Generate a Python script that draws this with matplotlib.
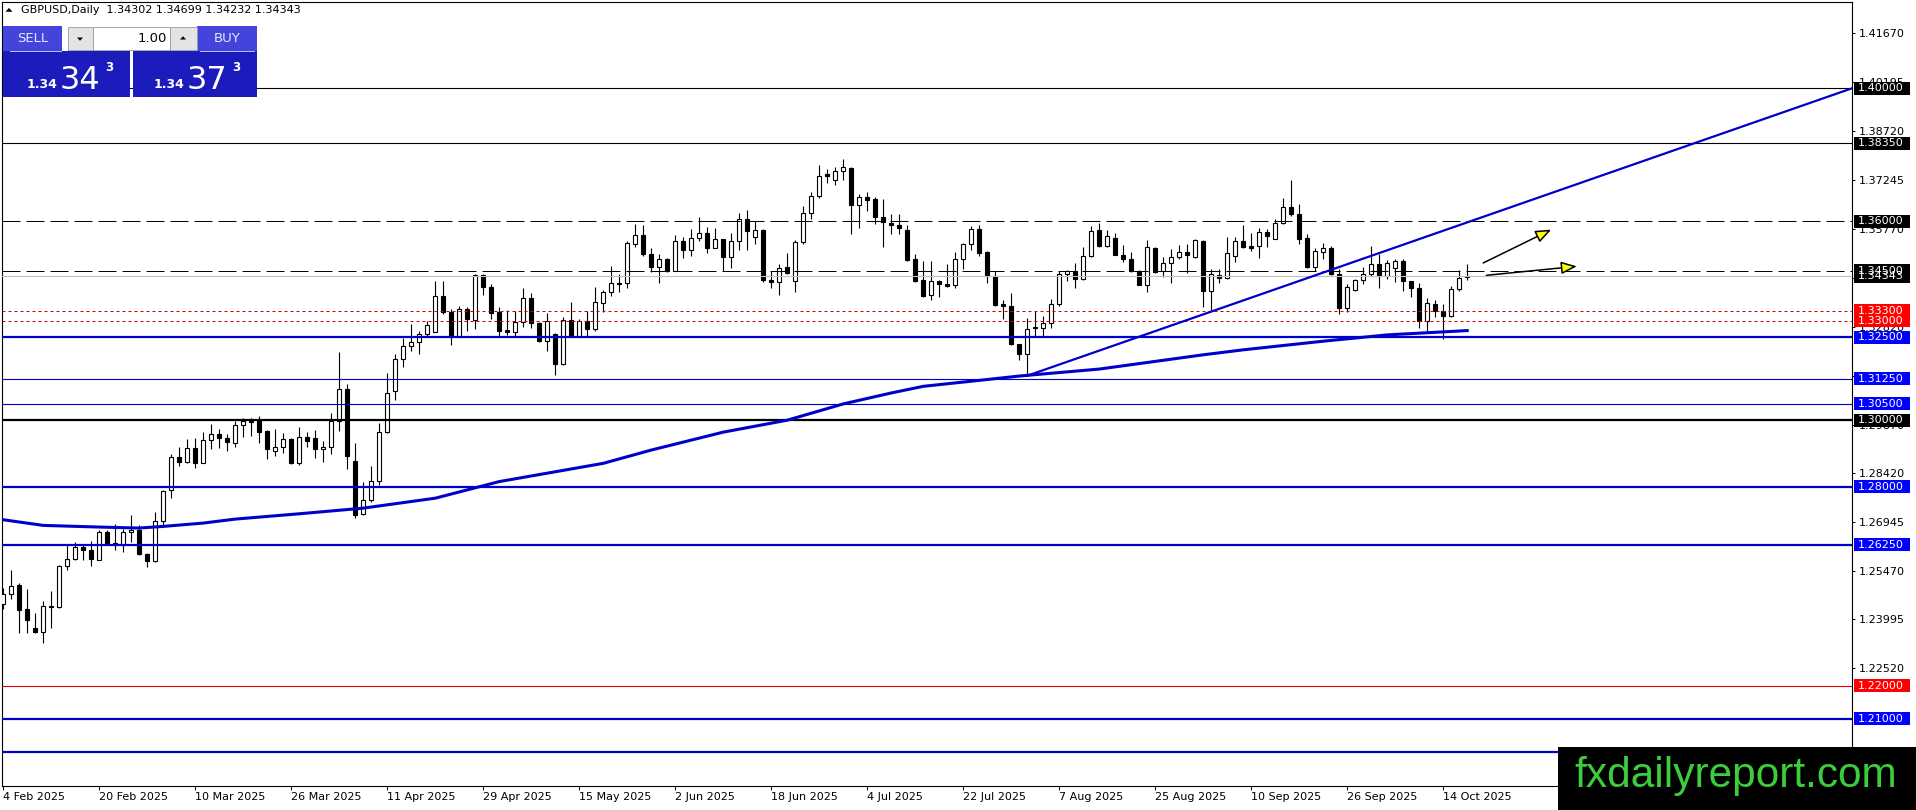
import matplotlib
matplotlib.use('Agg')
import matplotlib.pyplot as plt
import matplotlib.transforms as mtransforms
from matplotlib.patches import Rectangle, Polygon
import numpy as np

# ---- data (daily GBPUSD bars, 4 Feb 2025 .. 17 Oct 2025) ----
opens = [1.2445, 1.2475, 1.2502, 1.2430, 1.2375, 1.2363, 1.2440, 1.2438, 1.2562, 1.2582,
         1.2618, 1.2610, 1.2580, 1.2663, 1.2630, 1.2623, 1.2663, 1.2670, 1.2598, 1.2575,
         1.2695, 1.2790, 1.2890, 1.2875, 1.2915, 1.2872, 1.2940, 1.2958, 1.2945, 1.2930,
         1.2985, 1.2998, 1.3000, 1.2968, 1.2908, 1.2918, 1.2943, 1.2870, 1.2948, 1.2945,
         1.2912, 1.2918, 1.2998, 1.3095, 1.2877, 1.2717, 1.2760, 1.2817, 1.2965, 1.3088,
         1.3185, 1.3223, 1.3237, 1.3260, 1.3266, 1.3375, 1.3327, 1.3252, 1.3335, 1.3302,
         1.3438, 1.3402, 1.3325, 1.3272, 1.3265, 1.3295, 1.3367, 1.3293, 1.3240, 1.3260,
         1.3170, 1.3302, 1.3252, 1.3298, 1.3275, 1.3352, 1.3385, 1.3413, 1.3412, 1.3532,
         1.3558, 1.3500, 1.3463, 1.3485, 1.3450, 1.3541, 1.3512, 1.3549, 1.3563, 1.3520,
         1.3546, 1.3493, 1.3540, 1.3606, 1.3551, 1.3573, 1.3422, 1.3415, 1.3462, 1.3420,
         1.3536, 1.3625, 1.3674, 1.3742, 1.3724, 1.3752, 1.3760, 1.3649, 1.3671, 1.3665,
         1.3613, 1.3595, 1.3589, 1.3574, 1.3486, 1.3423, 1.3377, 1.3418, 1.3411, 1.3406,
         1.3486, 1.3530, 1.3577, 1.3508, 1.3433, 1.3350, 1.3345, 1.3229, 1.3199, 1.3282,
         1.3278, 1.3293, 1.3350, 1.3439, 1.3448, 1.3425, 1.3495, 1.3572, 1.3524, 1.3550,
         1.3499, 1.3485, 1.3449, 1.3408, 1.3520, 1.3449, 1.3475, 1.3493, 1.3507, 1.3493,
         1.3540, 1.3390, 1.3437, 1.3428, 1.3495, 1.3540, 1.3524, 1.3524, 1.3567, 1.3547,
         1.3593, 1.3643, 1.3620, 1.3548, 1.3463, 1.3506, 1.3520, 1.3440, 1.3338, 1.3392,
         1.3422, 1.3440, 1.3470, 1.3433, 1.3460, 1.3480, 1.3420, 1.3398, 1.3300, 1.3350,
         1.3328, 1.3313, 1.3395, 1.34302]
highs = [1.2495, 1.2550, 1.2508, 1.2492, 1.2420, 1.2455, 1.2484, 1.2565, 1.2623, 1.2633,
         1.2623, 1.2637, 1.2670, 1.2668, 1.2688, 1.2673, 1.2715, 1.2683, 1.2600, 1.2723,
         1.2790, 1.2898, 1.2920, 1.2942, 1.2945, 1.2965, 1.2990, 1.2972, 1.2958, 1.2998,
         1.3008, 1.3008, 1.3012, 1.2970, 1.2972, 1.2962, 1.2945, 1.2980, 1.2965, 1.2970,
         1.2938, 1.3023, 1.3205, 1.3110, 1.2932, 1.2813, 1.2862, 1.2993, 1.3143, 1.3198,
         1.3248, 1.3290, 1.3270, 1.3298, 1.3420, 1.3420, 1.3335, 1.3345, 1.3340, 1.3440,
         1.3440, 1.3410, 1.3340, 1.3332, 1.3330, 1.3398, 1.3382, 1.3295, 1.3322, 1.3262,
         1.3312, 1.3355, 1.3305, 1.3328, 1.3402, 1.3393, 1.3465, 1.3440, 1.3539, 1.3591,
         1.3588, 1.3518, 1.3500, 1.3488, 1.3558, 1.3551, 1.3576, 1.3611, 1.3582, 1.3579,
         1.3546, 1.3564, 1.3623, 1.3632, 1.3600, 1.3576, 1.3450, 1.3472, 1.3505, 1.3543,
         1.3646, 1.3689, 1.3770, 1.3757, 1.3764, 1.3787, 1.3763, 1.3680, 1.3689, 1.3672,
         1.3665, 1.3620, 1.3620, 1.3587, 1.3501, 1.3481, 1.3480, 1.3421, 1.3471, 1.3506,
         1.3533, 1.3584, 1.3587, 1.3511, 1.3451, 1.3362, 1.3384, 1.3229, 1.3308, 1.3328,
         1.3315, 1.3365, 1.3449, 1.3453, 1.3473, 1.3523, 1.3584, 1.3594, 1.3574, 1.3565,
         1.3529, 1.3506, 1.3452, 1.3542, 1.3523, 1.3493, 1.3516, 1.3528, 1.3531, 1.3547,
         1.3542, 1.3455, 1.3455, 1.3552, 1.3553, 1.3588, 1.3565, 1.3580, 1.3575, 1.3605,
         1.3670, 1.3725, 1.3650, 1.3560, 1.3518, 1.3535, 1.3525, 1.3455, 1.3410, 1.3425,
         1.3462, 1.3525, 1.3502, 1.3482, 1.3485, 1.3485, 1.3420, 1.3412, 1.3367, 1.3363,
         1.3350, 1.3405, 1.3452, 1.34699]
lows = [1.2430, 1.2460, 1.2360, 1.2360, 1.2358, 1.2330, 1.2375, 1.2435, 1.2548, 1.2578,
        1.2580, 1.2560, 1.2578, 1.2625, 1.2608, 1.2602, 1.2632, 1.2593, 1.2558, 1.2572,
        1.2680, 1.2765, 1.2863, 1.2872, 1.2857, 1.2870, 1.2912, 1.2917, 1.2907, 1.2920,
        1.2948, 1.2952, 1.2932, 1.2883, 1.2892, 1.2900, 1.2868, 1.2865, 1.2920, 1.2885,
        1.2875, 1.2898, 1.2968, 1.2852, 1.2705, 1.2715, 1.2753, 1.2805, 1.2962, 1.3060,
        1.3160, 1.3208, 1.3198, 1.3255, 1.3265, 1.3320, 1.3228, 1.3250, 1.3270, 1.3275,
        1.3378, 1.3305, 1.3255, 1.3258, 1.3255, 1.3280, 1.3278, 1.3235, 1.3208, 1.3137,
        1.3165, 1.3250, 1.3250, 1.3255, 1.3270, 1.3327, 1.3375, 1.3385, 1.3398, 1.3522,
        1.3495, 1.3445, 1.3412, 1.3445, 1.3448, 1.3488, 1.3495, 1.3541, 1.3503, 1.3518,
        1.3450, 1.3460, 1.3512, 1.3512, 1.3531, 1.3415, 1.3398, 1.3378, 1.3440, 1.3387,
        1.3530, 1.3607, 1.3669, 1.3715, 1.3710, 1.3725, 1.3561, 1.3580, 1.3629, 1.3590,
        1.3521, 1.3562, 1.3560, 1.3481, 1.3415, 1.3372, 1.3362, 1.3371, 1.3402, 1.3398,
        1.3456, 1.3512, 1.3496, 1.3413, 1.3345, 1.3305, 1.3227, 1.3181, 1.3134, 1.3255,
        1.3255, 1.3278, 1.3345, 1.3418, 1.3398, 1.3421, 1.3491, 1.3521, 1.3521, 1.3498,
        1.3476, 1.3446, 1.3406, 1.3386, 1.3443, 1.3431, 1.3413, 1.3486, 1.3443, 1.3490,
        1.3340, 1.3332, 1.3412, 1.3425, 1.3478, 1.3518, 1.3510, 1.3490, 1.3522, 1.3545,
        1.3590, 1.3615, 1.3530, 1.3460, 1.3450, 1.3485, 1.3438, 1.3320, 1.3325, 1.3390,
        1.3410, 1.3435, 1.3398, 1.3425, 1.3417, 1.3390, 1.3370, 1.3278, 1.3265, 1.3310,
        1.3245, 1.3310, 1.3390, 1.34232]
closes = [1.2475, 1.2500, 1.2428, 1.2398, 1.2362, 1.2440, 1.2437, 1.2562, 1.2582, 1.2618,
          1.2608, 1.2582, 1.2663, 1.2628, 1.2623, 1.2663, 1.2668, 1.2597, 1.2575, 1.2695,
          1.2788, 1.2890, 1.2875, 1.2917, 1.2872, 1.2940, 1.2958, 1.2945, 1.2933, 1.2985,
          1.2998, 1.2996, 1.2965, 1.2912, 1.2918, 1.2942, 1.2870, 1.2950, 1.2938, 1.2912,
          1.2918, 1.2998, 1.3095, 1.2893, 1.2713, 1.2760, 1.2817, 1.2965, 1.3082, 1.3185,
          1.3223, 1.3237, 1.3260, 1.3288, 1.3375, 1.3325, 1.3252, 1.3335, 1.3305, 1.3438,
          1.3400, 1.3322, 1.3270, 1.3265, 1.3295, 1.3367, 1.3293, 1.3238, 1.3300, 1.3170,
          1.3302, 1.3252, 1.3298, 1.3275, 1.3355, 1.3385, 1.3412, 1.3411, 1.3534, 1.3558,
          1.3500, 1.3463, 1.3485, 1.3450, 1.3539, 1.3512, 1.3549, 1.3563, 1.3520, 1.3546,
          1.3493, 1.3540, 1.3606, 1.3571, 1.3573, 1.3422, 1.3415, 1.3460, 1.3442, 1.3536,
          1.3625, 1.3674, 1.3737, 1.3735, 1.3752, 1.3762, 1.3649, 1.3671, 1.3664, 1.3613,
          1.3596, 1.3589, 1.3578, 1.3483, 1.3419, 1.3375, 1.3418, 1.3411, 1.3404, 1.3486,
          1.3530, 1.3577, 1.3504, 1.3434, 1.3348, 1.3344, 1.3229, 1.3199, 1.3275, 1.3278,
          1.3293, 1.3350, 1.3439, 1.3448, 1.3425, 1.3495, 1.3570, 1.3524, 1.3554, 1.3498,
          1.3485, 1.3449, 1.3406, 1.3523, 1.3446, 1.3475, 1.3493, 1.3507, 1.3498, 1.3542,
          1.3390, 1.3440, 1.3428, 1.3503, 1.3540, 1.3522, 1.3520, 1.3567, 1.3554, 1.3594,
          1.3642, 1.3620, 1.3547, 1.3463, 1.3510, 1.3518, 1.3440, 1.3338, 1.3400, 1.3423,
          1.3440, 1.3470, 1.3433, 1.3473, 1.3480, 1.3418, 1.3398, 1.3300, 1.3353, 1.3330,
          1.3313, 1.3395, 1.3428, 1.34343]

# moving average (thick blue curve), read at a few bars
ma_bars = [0, 5, 12, 17, 20, 25, 29, 33, 37, 45, 54, 62, 75, 81, 90, 98, 105, 111, 115, 122,
           127, 137, 150, 155, 165, 173, 183]
ma_vals = [1.2700, 1.2683, 1.2678, 1.2675, 1.2680, 1.2690, 1.2702, 1.2710, 1.2718, 1.2735,
           1.2765, 1.2815, 1.2870, 1.2910, 1.2964, 1.3000, 1.3049, 1.3082, 1.3102, 1.3120,
           1.3133, 1.3154, 1.3197, 1.3212, 1.3238, 1.3257, 1.3270]

# rising trend line from the 1 Aug low
trend_bars = [128, 231.1]
trend_vals = [1.3134, 1.4000]

# horizontal levels
level_prices = [1.40000, 1.38350, 1.36000, 1.34500, 1.33300, 1.33000, 1.32500, 1.31250,
                1.30500, 1.30000, 1.28000, 1.26250, 1.22000, 1.21000, 1.20000]
level_kinds = ['black', 'black', 'dash', 'dash', 'dot', 'dot', 'blue2', 'blue1',
               'blue1', 'black2', 'blue2', 'blue2', 'red', 'blue2', 'blue2']
bid_price = 1.34343

# right-scale tick labels
price_ticks = [1.41670, 1.40195, 1.38720, 1.37245, 1.35770, 1.34295, 1.32820, 1.31345,
               1.29870, 1.28420, 1.26945, 1.25470, 1.23995, 1.22520]

# date ticks (bar index -> label)
date_bars = [0, 12, 24, 36, 48, 60, 72, 84, 96, 108, 120, 132, 144, 156, 168, 180]
date_labels = ['4 Feb 2025', '20 Feb 2025', '10 Mar 2025', '26 Mar 2025', '11 Apr 2025',
               '29 Apr 2025', '15 May 2025', '2 Jun 2025', '18 Jun 2025', '4 Jul 2025',
               '22 Jul 2025', '7 Aug 2025', '25 Aug 2025', '10 Sep 2025', '26 Sep 2025',
               '14 Oct 2025']

# two hand-drawn arrows (start, tip) in bar / price units
arrow_starts = [(185.0, 1.34737), (185.4, 1.34365)]
arrow_tips = [(193.5, 1.35741), (196.7, 1.34636)]

# ---- figure ----
W, H = 1916, 810
plt.rcParams['font.family'] = ['DejaVu Sans']
fig = plt.figure(figsize=(W / 100, H / 100), dpi=100)
ax = fig.add_axes([2 / W, (H - 786) / H, 1850 / W, 784 / H])
y_top, y_bot = 1.42600, 1.18978
ax.set_ylim(y_bot, y_top)
ax.set_xlim(-0.16, 231.1)
ppx = (y_top - y_bot) / 784.0  # price per pixel

LINE_BLUE = '#0000cc'

# candles
o = np.array(opens); h = np.array(highs); l = np.array(lows); c = np.array(closes)
idx = np.arange(len(o))
up = c >= o
ax.vlines(idx, l, h, color='black', lw=0.8, zorder=2)
lo = np.minimum(o, c)
bh = np.maximum(np.abs(c - o), 0.00003)
ax.bar(idx[up], bh[up], bottom=lo[up], width=0.5, color='white', edgecolor='black', linewidth=0.8, zorder=3)
ax.bar(idx[~up], bh[~up], bottom=lo[~up], width=0.5, color='black', edgecolor='black', linewidth=0.8, zorder=3)

# bid line
ax.axhline(bid_price, color='#c0c0c0', lw=0.8, zorder=4)

styles = {
    'black': dict(color='black', lw=0.8),
    'black2': dict(color='black', lw=1.6),
    'dash': dict(color='black', lw=0.72, linestyle=(0, (18, 6))),
    'dot': dict(color='#d00000', lw=0.72, linestyle=(0, (3, 3))),
    'blue1': dict(color=LINE_BLUE, lw=0.8),
    'blue2': dict(color=LINE_BLUE, lw=1.6),
    'red': dict(color='#e00000', lw=0.8),
}
label_bg = {'black': 'black', 'black2': 'black', 'dash': 'black', 'dot': '#ff0000',
            'blue1': '#0000ff', 'blue2': '#0000ff', 'red': '#ff0000'}
for p, k in zip(level_prices, level_kinds):
    ax.axhline(p, zorder=5, **styles[k])

# moving average and trend line
ax.plot(ma_bars, ma_vals, color=LINE_BLUE, lw=2.2, zorder=6, solid_joinstyle='round')
ax.plot(trend_bars, trend_vals, color=LINE_BLUE, lw=1.6, zorder=6)

# arrows
for s, t in zip(arrow_starts, arrow_tips):
    ax.annotate('', xy=t, xytext=s, zorder=7,
                arrowprops=dict(arrowstyle='-|>,head_length=0.95,head_width=0.38',
                                fc='#ffff00', ec='black', lw=1.1, shrinkA=0, shrinkB=0))

# axes styling
for sp in ax.spines.values():
    sp.set_color('black')
    sp.set_linewidth(0.8)
ax.yaxis.tick_right()
ax.set_yticks(price_ticks)
ax.set_yticklabels(['%.5f' % v for v in price_ticks])
ax.tick_params(axis='y', direction='out', length=2.5, width=0.7, pad=2.5, labelsize=8, colors='black')
ax.set_xticks(date_bars)
ax.set_xticklabels(date_labels)
ax.tick_params(axis='x', direction='out', length=3, width=0.7, pad=1.5, labelsize=8, colors='black')
for t in ax.get_xticklabels():
    t.set_ha('left')

# price labels on the right scale
bt = mtransforms.blended_transform_factory(ax.transAxes, ax.transData)
def level_label(price, bg):
    ax.add_patch(Rectangle((1 + 2 / 1850, price - 6.5 * ppx), 56 / 1850, 13 * ppx,
                           transform=bt, facecolor=bg, edgecolor='none', clip_on=False, zorder=8))
    ax.text(1 + 6 / 1850, price, '%.5f' % price, transform=bt, color='white', fontsize=8,
            va='center', ha='left', clip_on=False, zorder=9)

level_label(bid_price, 'black')
for p, k in zip(level_prices, level_kinds):
    if p > y_bot + 0.015:
        level_label(p, label_bg[k])

# ---- figure-level overlays (pixel coordinates from top-left) ----
def frect(x0, y0, x1, y1, fc, ec='none', lw=0, z=20):
    r = Rectangle((x0 / W, 1 - y1 / H), (x1 - x0) / W, (y1 - y0) / H, transform=fig.transFigure,
                  facecolor=fc, edgecolor=ec, linewidth=lw, zorder=z)
    fig.add_artist(r)

def ftext(x, y, s, **kw):
    fig.text(x / W, 1 - y / H, s, zorder=25, **kw)

def ftri(cx, cy, size, up_dir=True):
    d = -1 if up_dir else 1
    pts = [((cx - size) / W, 1 - (cy - d * size * 0.5) / H),
           ((cx + size) / W, 1 - (cy - d * size * 0.5) / H),
           (cx / W, 1 - (cy + d * size * 0.6) / H)]
    fig.add_artist(Polygon(pts, closed=True, transform=fig.transFigure, facecolor='black',
                           edgecolor='none', zorder=25))

# header
ftri(9, 10, 3.5, up_dir=True)
ftext(21, 10, 'GBPUSD,Daily  1.34302 1.34699 1.34232 1.34343', fontsize=8, va='center', ha='left')

# one-click trading panel
frect(3, 26, 62, 51, '#4444dd')
frect(197, 26, 257, 51, '#4444dd')
frect(68, 27, 93, 50, '#e4e4e4', ec='#9a9a9a', lw=0.6)
frect(93, 27, 170, 50, 'white', ec='#9a9a9a', lw=0.6)
frect(170, 27, 197, 50, '#e4e4e4', ec='#9a9a9a', lw=0.6)
frect(3, 51, 130, 97, '#1c1cbc')
frect(133, 51, 257, 97, '#1c1cbc')
frect(10, 50.5, 62, 51.5, '#b8b8ff', z=21)
frect(200, 50.5, 255, 51.5, '#b8b8ff', z=21)
ftext(33, 39, 'SELL', fontsize=9.5, color='#e6e6ff', va='center', ha='center')
ftext(227, 39, 'BUY', fontsize=9.5, color='#e6e6ff', va='center', ha='center')
ftext(167, 38, '1.00', fontsize=9.5, color='black', va='center', ha='right')
ftri(80, 39, 3, up_dir=False)
ftri(183, 38, 3, up_dir=True)
for bx, big in [(0, '34'), (127, '37')]:
    ftext(27 + bx, 88, '1.34', fontsize=9, fontweight='bold', color='white', va='baseline', ha='left')
    ftext(60 + bx, 89, big, fontsize=23, color='white', va='baseline', ha='left')
    ftext(105 + bx, 61, '3', fontsize=8.5, fontweight='bold', color='white', va='top', ha='left')

# watermark
frect(1558, 747, 1916, 810, 'black', z=30)
fig.text(1736 / W, 1 - 787 / H, 'fxdailyreport.com', fontsize=30.5, color='#3ccc3c',
         family=['Liberation Sans', 'DejaVu Sans'], ha='center', va='baseline', zorder=31)

fig.savefig('out.png', dpi=100, facecolor='white')
